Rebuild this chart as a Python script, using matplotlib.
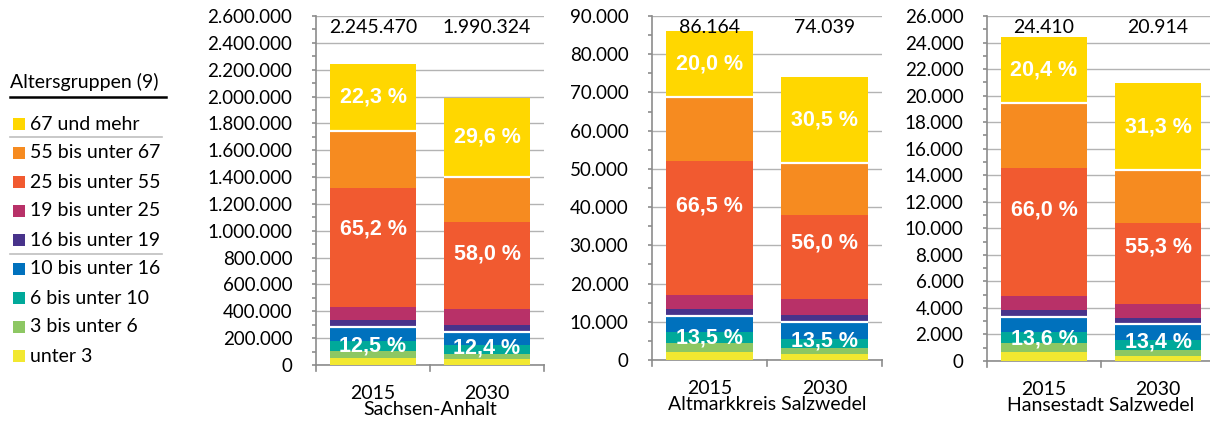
import numpy as np
import matplotlib.pyplot as plt
from matplotlib.ticker import FuncFormatter, MultipleLocator
from matplotlib.patches import Rectangle
from matplotlib.lines import Line2D

# Altersgruppen von unten nach oben
groups = ['unter 3', '3 bis unter 6', '6 bis unter 10', '10 bis unter 16',
          '16 bis unter 19', '19 bis unter 25', '25 bis unter 55',
          '55 bis unter 67', '67 und mehr']
colors = ['#F2E830', '#8DC763', '#00A99A', '#0071BD', '#48338B',
          '#B83168', '#F15A30', '#F68B20', '#FFD700']

years = ['2015', '2030']
regions = ['Sachsen-Anhalt', 'Altmarkkreis Salzwedel', 'Hansestadt Salzwedel']

# Einwohner je Altersgruppe (geschätzt aus der Grafik)
sachsen_2015 = [52000, 52000, 72000, 104700, 52000, 100000, 886000, 426000, 500770]
sachsen_2030 = [42000, 40000, 67000, 97800, 50000, 119000, 648000, 337400, 589124]
altmark_2015 = [2180, 2350, 2830, 4272, 1700, 3800, 34930, 16871, 17231]
altmark_2030 = [1500, 1600, 2450, 4445, 1850, 4000, 22085, 13527, 22582]
hanse_2015 = [650, 690, 840, 1140, 520, 1060, 9645, 4886, 4979]
hanse_2030 = [390, 460, 700, 1252, 420, 1070, 6108, 3967, 6547]

data = [[sachsen_2015, sachsen_2030], [altmark_2015, altmark_2030], [hanse_2015, hanse_2030]]
y_max = [2600000, 90000, 26000]
y_step = [200000, 10000, 2000]

W, H = 1210, 421
fig = plt.figure(figsize=(W / 100, H / 100), dpi=100)

# Achsenpositionen in Pixeln: links, oben, rechts, unten
boxes = [(316, 16, 544, 365), (652, 16, 882, 360), (987, 16, 1215, 361)]

num_font = 'Lato'
fmt = FuncFormatter(lambda v, p: f'{v:,.0f}'.replace(',', '.'))
grey = '#8C8C8C'


def pct(v):
    return f'{v:.1f} %'.replace('.', ',')


for i, (l, t, r, b) in enumerate(boxes):
    ax = fig.add_axes([l / W, (H - b) / H, (r - l) / W, (b - t) / H])
    xs = np.array([0.5, 1.5])
    bw = 0.76
    for j, vals in enumerate(data[i]):
        vals = np.array(vals)
        cum = np.concatenate([[0], np.cumsum(vals)])
        total = cum[-1]
        for k in range(len(groups)):
            ax.bar(xs[j], vals[k], bottom=cum[k], width=bw, color=colors[k],
                   linewidth=0, zorder=3)
        # weiße Trennlinien zwischen den Gruppen
        for k in (4, 8):
            ax.hlines(cum[k], xs[j] - bw / 2, xs[j] + bw / 2,
                      color='white', lw=1.6, zorder=4)
        # Anteile der drei Hauptgruppen
        for lo, hi in ((0, 4), (4, 8), (8, 9)):
            share = (cum[hi] - cum[lo]) / total * 100
            ax.text(xs[j], (cum[hi] + cum[lo]) / 2, pct(share), ha='center',
                    va='center', color='white', fontsize=15.5, fontweight='bold',
                    family='Liberation Sans', zorder=5)
        ax.text(xs[j], 0.968, fmt(total), transform=ax.get_xaxis_transform(),
                ha='center', va='center', fontsize=14, family=num_font)
        ax.text(xs[j], -0.083, years[j], transform=ax.get_xaxis_transform(),
                ha='center', va='center', fontsize=14, family=num_font)
    ax.text(0.5, -0.128, regions[i], transform=ax.transAxes, ha='center',
            va='center', fontsize=14, family=num_font)

    ax.set_xlim(0, 2)
    ax.set_ylim(0, y_max[i])
    ax.yaxis.set_major_locator(MultipleLocator(y_step[i]))
    ax.yaxis.set_minor_locator(MultipleLocator(y_step[i] / 2))
    ax.yaxis.set_major_formatter(fmt)
    ax.set_xticks([])
    # kurze Trennstriche unter der x-Achse
    for xt in (0, 1, 2):
        ax.plot([xt, xt], [0, -0.016], transform=ax.get_xaxis_transform(),
                color=grey, lw=1.2, clip_on=False)
    ax.tick_params(axis='y', which='both', direction='out', length=3, color=grey,
                   width=1.2, pad=14)
    for lab in ax.get_yticklabels():
        lab.set_family(num_font)
        lab.set_fontsize(13.5)
    ax.grid(axis='y', color='#B3B3B3', lw=1, zorder=0)
    ax.set_axisbelow(True)
    for s in ('top', 'right'):
        ax.spines[s].set_visible(False)
    for s in ('left', 'bottom'):
        ax.spines[s].set_color(grey)
        ax.spines[s].set_linewidth(1.2)


def fx(x):
    return x / W


def fy(y):
    return 1 - y / H


# Legende
fig.text(fx(10), fy(82), 'Altersgruppen (9)', ha='left', va='center',
         fontsize=14, family=num_font)
fig.add_artist(Line2D([fx(10), fx(166)], [fy(97), fy(97)], color='black', lw=1.8))
legend_y = [124, 153, 182, 211, 240, 269, 298, 327, 356]
for n, k in enumerate(range(len(groups) - 1, -1, -1)):
    yc = legend_y[n]
    fig.add_artist(Rectangle((fx(13), fy(yc + 6)), 12 / W, 12 / H,
                             color=colors[k], lw=0))
    fig.text(fx(30), fy(yc), groups[k], ha='left', va='center',
             fontsize=14, family=num_font)
for ys in (137, 254):
    fig.add_artist(Line2D([fx(10), fx(162)], [fy(ys), fy(ys)], color='#BFBFBF', lw=1.2))

fig.savefig('out.png', dpi=100)
